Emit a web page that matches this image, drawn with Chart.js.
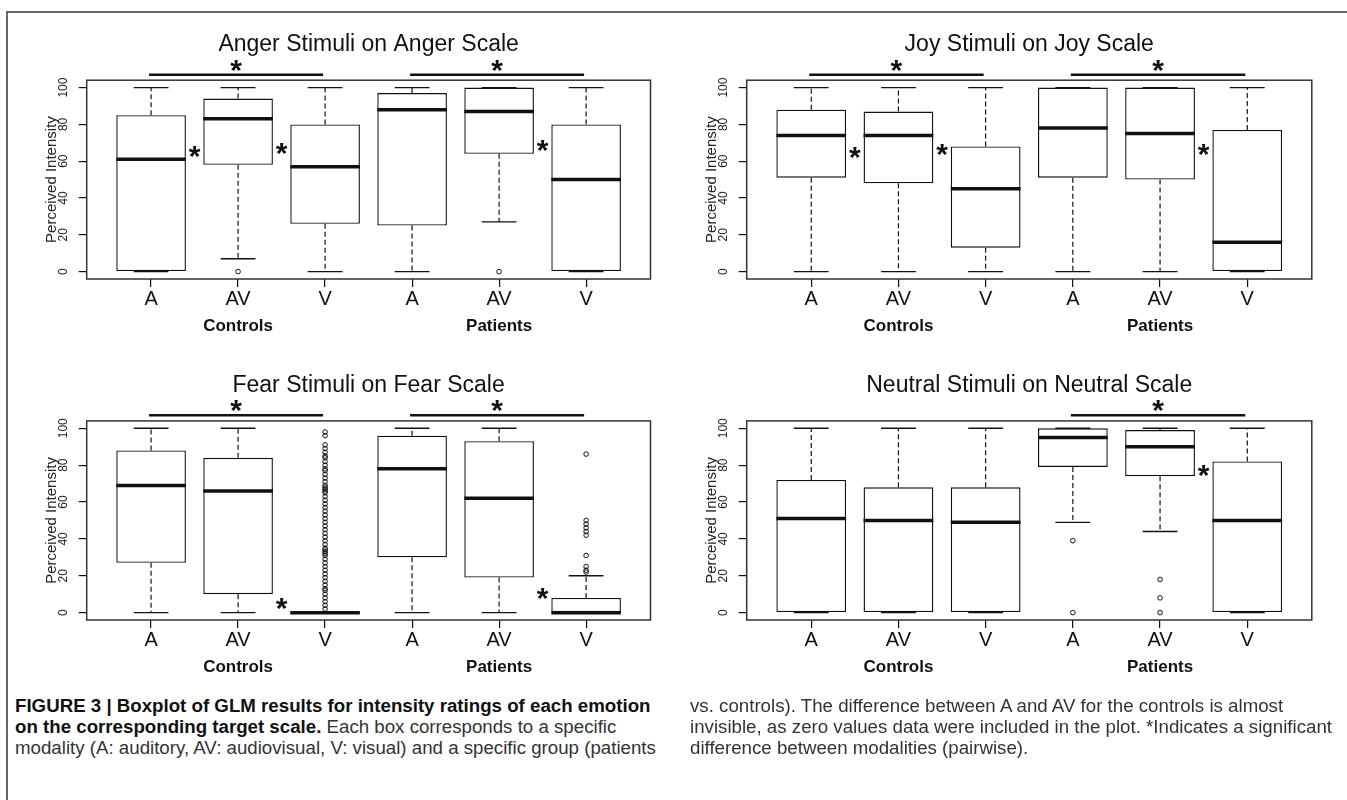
<!DOCTYPE html>
<html>
<head>
<meta charset="utf-8">
<title>Figure 3 boxplots</title>
<script src="https://cdn.jsdelivr.net/npm/chart.js@4.4.1/dist/chart.umd.min.js"></script>
<style>
  html, body { margin: 0; padding: 0; background: #fff; }
  body { width: 1347px; height: 800px; position: relative; overflow: hidden; font-family: "Liberation Sans", Arial, sans-serif; }
  .frame { position: absolute; left: 6px; top: 11px; width: 1400px; height: 900px; border-top: 2px solid #666; border-left: 2px solid #666; }
  .panel { position: absolute; }
  .cap { position: absolute; font-size: 18.7px; line-height: 21px; color: #333; white-space: nowrap; }
  .cap b { color: #111; }
</style>
</head>
<body>
<div class="frame"></div>
<div class="panel" style="left:0;top:0;width:670px;height:345px"><canvas id="anger"></canvas></div>
<div class="panel" style="left:660px;top:0;width:687px;height:345px"><canvas id="joy"></canvas></div>
<div class="panel" style="left:0;top:345px;width:670px;height:345px"><canvas id="fear"></canvas></div>
<div class="panel" style="left:660px;top:345px;width:687px;height:345px"><canvas id="neutral"></canvas></div>

<div class="cap" style="left:15px;top:695px">
<b>FIGURE 3 | Boxplot of GLM results for intensity ratings of each emotion</b><br>
<b>on the corresponding target scale.</b> Each box corresponds to a specific<br>
modality (A: auditory, AV: audiovisual, V: visual) and a specific group (patients
</div>
<div class="cap" style="left:690px;top:695px">
vs. controls). The difference between A and AV for the controls is almost<br>
invisible, as zero values data were included in the plot. *Indicates a significant<br>
difference between modalities (pairwise).
</div>

<script>
// categories
const modalities = ['A', 'AV', 'V', 'A', 'AV', 'V'];
const groups = ['Controls', 'Patients'];
const yTicks = [0, 20, 40, 60, 80, 100];

// Anger (low whisker, Q1, median, Q3, high whisker, outliers)
const angerLow = [0, 7, 0, 0, 27, 0];
const angerQ1 = [0, 58, 26, 25, 64, 0];
const angerMed = [61, 83, 57, 88, 87, 50];
const angerQ3 = [85, 94, 80, 97, 100, 80];
const angerHigh = [100, 100, 100, 100, 100, 100];
const angerOut = [[], [0], [], [], [0], []];
const angerBrackets = [[1, 3], [4, 6]];
const angerStars = [[1.5, 65], [2.5, 66.5], [5.5, 68]];

// Joy
const joyLow = [0, 0, 0, 0, 0, 0];
const joyQ1 = [51, 48, 13, 51, 50, 0];
const joyMed = [74, 74, 45, 78, 75, 16];
const joyQ3 = [88, 87, 68, 100, 100, 77];
const joyHigh = [100, 100, 100, 100, 100, 100];
const joyOut = [[], [], [], [], [], []];
const joyBrackets = [[1, 3], [4, 6]];
const joyStars = [[1.5, 64.5], [2.5, 66], [5.5, 66]];

// Fear
const fearCtrlV = [98, 96, 91, 89, 87, 85, 84, 82, 80, 78, 77, 75, 73, 71, 69, 68, 67, 66, 65, 63,
  61, 59, 57, 55, 53, 51, 49, 47, 45, 43, 41, 39, 37, 35, 34, 33, 32, 31, 29, 27, 25, 23, 21, 19,
  17, 15, 13, 12, 10, 8, 6, 4, 2];
const fearLow = [0, 0, 0, 0, 0, 0];
const fearQ1 = [27, 10, 0, 30, 19, 0];
const fearMed = [69, 66, 0, 78, 62, 0];
const fearQ3 = [88, 84, 0, 96, 93, 8];
const fearHigh = [100, 100, 0, 100, 100, 20];
const fearOut = [[], [], fearCtrlV, [], [], [86, 50, 48, 46, 44, 42, 31, 25, 23, 22]];
const fearBrackets = [[1, 3], [4, 6]];
const fearStars = [[2.5, 4.5], [5.5, 10]];

// Neutral
const neutralLow = [0, 0, 0, 49, 44, 0];
const neutralQ1 = [0, 0, 0, 79, 74, 0];
const neutralMed = [51, 50, 49, 95, 90, 50];
const neutralQ3 = [72, 68, 68, 100, 99, 82];
const neutralHigh = [100, 100, 100, 100, 100, 100];
const neutralOut = [[], [], [], [39, 0], [18, 8, 0], []];
const neutralBrackets = [[4, 6]];
const neutralStars = [[5.5, 77]];

const positions = modalities.map((m, i) => i + 1);
const FONT = '"Liberation Sans", Arial, sans-serif';
const INK = '#111';

function star(ctx, px, py) {
  ctx.font = 'bold 30px ' + FONT;
  ctx.textAlign = 'center';
  ctx.textBaseline = 'alphabetic';
  ctx.fillStyle = INK;
  ctx.fillText('*', px, py + 14);
}

// plot frame, significance brackets and stars
const marksPlugin = {
  id: 'marks',
  afterDraw(chart, args, opts) {
    const {ctx, chartArea: a} = chart;
    const x = chart.scales.x, y = chart.scales.y;
    ctx.save();
    ctx.strokeStyle = '#333';
    ctx.lineWidth = 1.5;
    ctx.strokeRect(a.left, a.top, a.right - a.left, a.bottom - a.top);
    ctx.strokeStyle = INK;
    ctx.lineWidth = 2.5;
    opts.brackets.forEach(([from, to]) => {
      const py = y.getPixelForValue(107);
      const x1 = x.getPixelForValue(from) - 2, x2 = x.getPixelForValue(to) - 2;
      ctx.beginPath();
      ctx.moveTo(x1, py);
      ctx.lineTo(x2, py);
      ctx.stroke();
      star(ctx, (x1 + x2) / 2, py - 9);
    });
    opts.stars.forEach(([sx, sv]) => star(ctx, x.getPixelForValue(sx), y.getPixelForValue(sv)));
    ctx.restore();
  }
};

function makePanel(id, p) {
  const whiskers = [], caps = [], medians = [], outliers = [];
  positions.forEach((x, i) => {
    whiskers.push({x, y: p.q3[i]}, {x, y: p.high[i]}, {x, y: null});
    whiskers.push({x, y: p.q1[i]}, {x, y: p.low[i]}, {x, y: null});
    caps.push({x: x - 0.2, y: p.high[i]}, {x: x + 0.2, y: p.high[i]}, {x, y: null});
    caps.push({x: x - 0.2, y: p.low[i]}, {x: x + 0.2, y: p.low[i]}, {x, y: null});
    medians.push({x: x - 0.4, y: p.med[i]}, {x: x + 0.4, y: p.med[i]}, {x, y: null});
    p.out[i].forEach(v => outliers.push({x, y: v}));
  });

  new Chart(document.getElementById(id), {
    type: 'bar',
    data: {
      datasets: [
        {
          type: 'line', data: whiskers, borderColor: INK, borderWidth: 1.2, borderDash: [5, 3],
          pointRadius: 0, spanGaps: false, order: 3
        },
        {
          type: 'line', data: caps, borderColor: INK, borderWidth: 1.3,
          pointRadius: 0, spanGaps: false, order: 3
        },
        {
          type: 'bar', data: positions.map((x, i) => ({x, y: [p.q1[i], p.q3[i]]})),
          backgroundColor: '#fff', borderColor: INK, borderWidth: 1.4, borderSkipped: false,
          barPercentage: 0.8, categoryPercentage: 1, order: 2
        },
        {
          type: 'line', data: medians, borderColor: INK, borderWidth: 3.5, borderCapStyle: 'butt',
          pointRadius: 0, spanGaps: false, order: 1
        },
        {
          type: 'scatter', data: outliers, pointRadius: 2.3, pointBorderWidth: 1,
          pointBorderColor: INK, pointBackgroundColor: 'rgba(255,255,255,0)', order: 0
        }
      ]
    },
    options: {
      responsive: true,
      maintainAspectRatio: false,
      animation: false,
      events: [],
      layout: {padding: {left: 30, right: p.padRight, top: 0, bottom: 0}},
      plugins: {
        legend: {display: false},
        tooltip: {enabled: false},
        title: {
          display: true, text: p.title, fullSize: false, color: INK,
          font: {family: FONT, size: 23, weight: 'normal'},
          padding: {top: p.titleTop, bottom: 21.3}
        },
        marks: {brackets: p.brackets, stars: p.stars}
      },
      scales: {
        x: {
          type: 'linear', min: 0.26, max: 6.74, offset: false,
          afterBuildTicks: s => { s.ticks = positions.map(v => ({value: v})); },
          afterFit: s => { s.height = 33; },
          ticks: {
            autoSkip: false, maxRotation: 0, padding: 0, color: INK,
            font: {family: FONT, size: 20},
            callback: (v, i) => modalities[i]
          },
          grid: {drawOnChartArea: false, offset: false, tickLength: 8, color: INK, lineWidth: 1.2},
          border: {display: false}
        },
        x2: {
          type: 'linear', position: 'bottom', min: 0.26, max: 6.74, offset: false,
          afterBuildTicks: s => { s.ticks = [{value: 2}, {value: 5}]; },
          afterFit: s => { s.height = p.groupH; },
          ticks: {
            autoSkip: false, maxRotation: 0, padding: 4, color: INK,
            font: {family: FONT, size: 17, weight: 'bold'},
            callback: (v, i) => groups[i]
          },
          grid: {display: false, drawTicks: false},
          border: {display: false}
        },
        y: {
          type: 'linear', min: -4, max: 104,
          afterBuildTicks: s => { s.ticks = yTicks.map(v => ({value: v})); },
          afterFit: s => { s.width = 56.7; },
          ticks: {
            autoSkip: false, minRotation: 90, maxRotation: 90, crossAlign: 'center',
            padding: 5, color: '#222', font: {family: FONT, size: 12}
          },
          grid: {drawOnChartArea: false, offset: false, tickLength: 8, color: INK, lineWidth: 1.2},
          border: {display: false},
          title: {
            display: true, text: 'Perceived Intensity', color: '#222',
            font: {family: FONT, size: 15}, padding: {top: 12.5, bottom: 0}
          }
        }
      }
    },
    plugins: [marksPlugin]
  });
}

makePanel('anger', {
  title: 'Anger Stimuli on Anger Scale', titleTop: 31.3, padRight: 19.5, groupH: 33,
  low: angerLow, q1: angerQ1, med: angerMed, q3: angerQ3, high: angerHigh, out: angerOut,
  brackets: angerBrackets, stars: angerStars
});
makePanel('joy', {
  title: 'Joy Stimuli on Joy Scale', titleTop: 31.3, padRight: 35.2, groupH: 33,
  low: joyLow, q1: joyQ1, med: joyMed, q3: joyQ3, high: joyHigh, out: joyOut,
  brackets: joyBrackets, stars: joyStars
});
makePanel('fear', {
  title: 'Fear Stimuli on Fear Scale', titleTop: 27, padRight: 19.5, groupH: 37,
  low: fearLow, q1: fearQ1, med: fearMed, q3: fearQ3, high: fearHigh, out: fearOut,
  brackets: fearBrackets, stars: fearStars
});
makePanel('neutral', {
  title: 'Neutral Stimuli on Neutral Scale', titleTop: 27, padRight: 35.2, groupH: 37,
  low: neutralLow, q1: neutralQ1, med: neutralMed, q3: neutralQ3, high: neutralHigh, out: neutralOut,
  brackets: neutralBrackets, stars: neutralStars
});
</script>
</body>
</html>
